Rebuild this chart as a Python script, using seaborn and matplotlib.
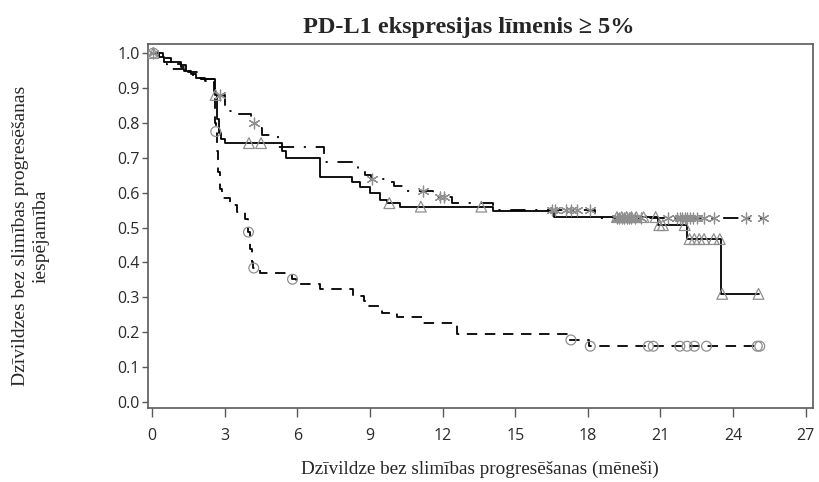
import numpy as np
import pandas as pd
import matplotlib
matplotlib.use("Agg")
import matplotlib.pyplot as plt
import seaborn as sns

# ---------------- data ----------------
# Solid curve (triangle censor marks)
sol_t = [0, 0.3, 0.5, 1.2, 1.4, 1.6, 1.8, 2.0, 2.6, 2.7, 2.75, 2.85, 3.0,
         5.35, 5.55, 6.95, 8.25, 8.6, 9.0, 9.4, 9.7, 10.25, 14.1, 16.6,
         20.9, 22.1, 23.5]
sol_s = [1.0, 0.99, 0.975, 0.965, 0.95, 0.94, 0.93, 0.925, 0.88, 0.81, 0.77,
         0.755, 0.742, 0.72, 0.70, 0.645, 0.63, 0.615, 0.60, 0.58, 0.57, 0.56,
         0.547, 0.53, 0.507, 0.467, 0.31]
sol_cens = [0.05, 2.62, 4.0, 4.5, 9.8, 11.1, 13.6, 19.2, 19.4, 19.6, 19.8,
            20.0, 20.3, 20.8, 20.95, 21.1, 22.0, 22.2, 22.4, 22.6, 22.8,
            23.2, 23.45, 23.55, 25.05]
sol_end = 25.05

# Dash-dot curve (asterisk censor marks)
dd_t = [0, 0.45, 0.6, 1.3, 1.5, 1.7, 2.0, 2.6, 3.0, 3.5, 4.1, 4.3, 4.55,
        5.2, 7.1, 8.5, 8.8, 9.05, 9.7, 10.0, 10.4, 11.6, 12.4, 14.1, 18.3]
dd_s = [1.0, 0.97, 0.955, 0.95, 0.94, 0.93, 0.925, 0.88, 0.834, 0.825, 0.80,
        0.785, 0.765, 0.73, 0.687, 0.665, 0.65, 0.64, 0.63, 0.62, 0.605,
        0.587, 0.57, 0.55, 0.527]
dd_cens = [0.05, 2.8, 4.2, 9.1, 11.2, 11.9, 12.05, 16.5, 16.65, 17.1, 17.3,
           17.55, 18.1, 19.2, 19.3, 19.4, 19.5, 19.6, 19.7, 19.8, 19.95,
           20.2, 21.3, 21.7, 21.8, 21.9, 22.0, 22.1, 22.2, 22.35, 22.5,
           22.8, 23.2, 24.55, 25.25]
dd_end = 25.25

# Dashed curve (circle censor marks)
dsh_t = [0, 0.3, 0.8, 1.2, 1.5, 1.9, 2.2, 2.55, 2.6, 2.62, 2.68, 2.74, 2.8,
         2.87, 3.2, 3.5, 3.85, 3.97, 4.05, 4.12, 4.18, 4.45, 5.78, 5.95,
         6.95, 8.3, 8.75, 8.9, 9.5, 10.1, 11.2, 12.6, 17.2, 18.05]
dsh_s = [1.0, 0.985, 0.97, 0.96, 0.945, 0.93, 0.92, 0.88, 0.80, 0.775, 0.72,
         0.66, 0.61, 0.585, 0.565, 0.545, 0.525, 0.487, 0.44, 0.40, 0.384,
         0.37, 0.352, 0.338, 0.323, 0.305, 0.29, 0.275, 0.255, 0.244, 0.226,
         0.195, 0.178, 0.16]
dsh_cens = [0.05, 2.63, 3.98, 4.2, 5.8, 17.3, 18.1, 20.5, 20.7, 21.8, 22.1,
            22.4, 22.9, 25.0, 25.1]
dsh_end = 25.1

x_ticks = [0, 3, 6, 9, 12, 15, 18, 21, 24, 27]
y_ticks = [0.0, 0.1, 0.2, 0.3, 0.4, 0.5, 0.6, 0.7, 0.8, 0.9, 1.0]

title = "PD-L1 ekspresijas līmenis ≥ 5%"
xlabel = "Dzīvildze bez slimības progresēšanas (mēneši)"
ylabel = "Dzīvildzes bez slimības progresēšanas\niespējamība"

# ---------------- styling ----------------
sns.set_style("ticks")
plt.rcParams["font.family"] = ["Open Sans", "DejaVu Sans"]
plt.rcParams["lines.scale_dashes"] = False

fig = plt.figure(figsize=(8.2, 4.82), dpi=100)
ax = fig.add_axes([148 / 820, 1 - 408 / 482, (813 - 148) / 820, (408 - 44) / 482])

def step_frame(t, s, end):
    tt = list(t) + [end]
    ss = list(s) + [s[-1]]
    return pd.DataFrame({"t": tt, "s": ss})

def cens_frame(t, s, cens):
    t = np.asarray(t); s = np.asarray(s)
    idx = np.searchsorted(t, np.asarray(cens), side="right") - 1
    return pd.DataFrame({"t": cens, "s": s[idx]})

grey = "#8f8f8f"
lw = 1.3

# solid
sns.lineplot(data=step_frame(sol_t, sol_s, sol_end), x="t", y="s", ax=ax,
             estimator=None, sort=False, drawstyle="steps-post",
             color="black", linewidth=lw, linestyle="-")
# dash-dot
sns.lineplot(data=step_frame(dd_t, dd_s, dd_end), x="t", y="s", ax=ax,
             estimator=None, sort=False, drawstyle="steps-post",
             color="black", linewidth=lw,
             linestyle=(0, (11, 7, 1.5, 7)))
# dashed
sns.lineplot(data=step_frame(dsh_t, dsh_s, dsh_end), x="t", y="s", ax=ax,
             estimator=None, sort=False, drawstyle="steps-post",
             color="black", linewidth=lw, linestyle=(0, (7.5, 5.5)))

# censor marks
sns.scatterplot(data=cens_frame(sol_t, sol_s, sol_cens), x="t", y="s", ax=ax,
                marker="^", s=60, facecolors="none", edgecolor=grey,
                linewidth=0.9, zorder=3)
sns.scatterplot(data=cens_frame(dd_t, dd_s, dd_cens), x="t", y="s", ax=ax,
                marker=(6, 2, 0), s=60, color=grey, linewidth=0.9, zorder=3)
sns.scatterplot(data=cens_frame(dsh_t, dsh_s, dsh_cens), x="t", y="s", ax=ax,
                marker="o", s=50, facecolors="none", edgecolor=grey,
                linewidth=0.9, zorder=3)

ax.set_xlim(-0.17, 27.3)
ax.set_ylim(-0.017, 1.026)
ax.set_xticks(x_ticks)
ax.set_xticklabels([str(v) for v in x_ticks])
ax.set_yticks(y_ticks)
ax.set_yticklabels([f"{v:.1f}" for v in y_ticks])

frame_col = "#5a5a5a"
for sp in ax.spines.values():
    sp.set_visible(True)
    sp.set_color(frame_col)
    sp.set_linewidth(1.2)
ax.tick_params(axis="both", colors="#2a2a2a", labelsize=11.5,
               width=1, color=frame_col)
ax.tick_params(axis="x", length=6.5, pad=8)
ax.tick_params(axis="y", length=4.5, pad=1.5)
ax.set_xlabel("")
ax.set_ylabel("")

serif = ["Liberation Serif", "DejaVu Serif"]
fig.text(480 / 820, 1 - 469 / 482, xlabel, family=serif, fontsize=13.8,
         ha="center", va="center")
fig.text(31 / 820, 1 - 236 / 482, ylabel, family=serif, fontsize=14,
         rotation=90, ha="center", va="center", multialignment="center",
         linespacing=1.25)
fig.text(469 / 820, 1 - 27 / 482, title, family=serif, fontsize=17.5,
         fontweight="bold", ha="center", va="center")

fig.savefig("out.png", dpi=100)
